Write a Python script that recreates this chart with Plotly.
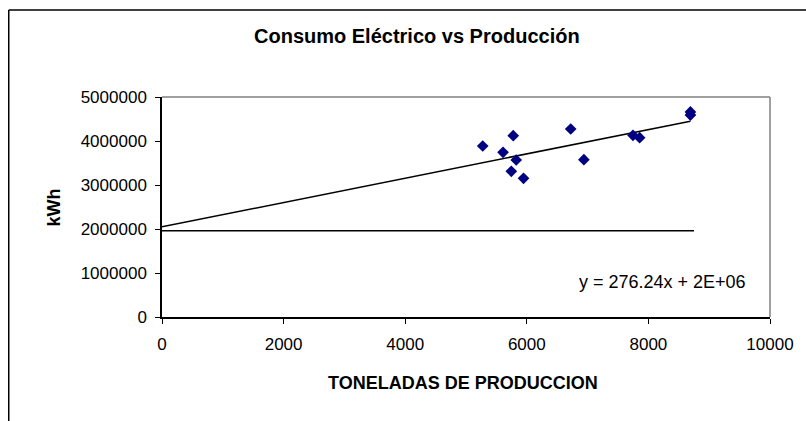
import plotly.graph_objects as go

# Data
produccion = [5275, 5777, 5609, 5826, 5745, 5946, 6722, 6939, 7746, 7856, 8691, 8691]
consumo_kwh = [3886000, 4120000, 3743000, 3568000, 3311000, 3152000, 4273000, 3575000, 4130000, 4075000, 4660000, 4590000]

trend_slope = 276.24
trend_intercept = 2050000
trend_x = [0, 8691]

base_x = [0, 8750]
base_y = [1960000, 1960000]

x_ticks = [0, 2000, 4000, 6000, 8000, 10000]
y_ticks = [0, 1000000, 2000000, 3000000, 4000000, 5000000]

FONT = "Liberation Sans, Arial, sans-serif"

W, H = 806, 421
L, R, T, B = 162, 773, 97, 317

def px(x):
    return (x - L) / (R - L)

def py(y):
    return (B - y) / (B - T)

fig = go.Figure()

fig.add_trace(go.Scatter(
    x=base_x, y=base_y, mode="lines",
    line=dict(color="black", width=1.5), showlegend=False, hoverinfo="skip"))

fig.add_trace(go.Scatter(
    x=trend_x, y=[trend_slope * v + trend_intercept for v in trend_x], mode="lines",
    line=dict(color="black", width=1.5), showlegend=False, hoverinfo="skip"))

fig.add_trace(go.Scatter(
    x=produccion, y=consumo_kwh, mode="markers",
    marker=dict(symbol="diamond", size=9, color="#000080"),
    showlegend=False))

shapes = [
    # plot area top & right gray border
    dict(type="line", xref="paper", yref="paper", x0=0, x1=1, y0=1, y1=1,
         line=dict(color="#808080", width=1.5)),
    dict(type="line", xref="paper", yref="paper", x0=1, x1=1, y0=0, y1=1,
         line=dict(color="#808080", width=1.5)),
    # outer chart frame
    dict(type="line", xref="paper", yref="paper", x0=px(8), x1=px(812), y0=py(10), y1=py(10),
         line=dict(color="black", width=1.5)),
    dict(type="line", xref="paper", yref="paper", x0=px(8), x1=px(8), y0=py(10), y1=py(430),
         line=dict(color="black", width=1.5)),
]

annotations = [
    dict(text="<b>Consumo Eléctrico vs Producción</b>", xref="paper", yref="paper",
         x=px(418), y=py(36), xanchor="center", yanchor="middle", showarrow=False,
         font=dict(family=FONT, size=20, color="black")),
    dict(text="<b>TONELADAS DE PRODUCCION</b>", xref="paper", yref="paper",
         x=px(464), y=py(383), xanchor="center", yanchor="middle", showarrow=False,
         font=dict(family=FONT, size=18, color="black")),
    dict(text="<b>kWh</b>", xref="paper", yref="paper", textangle=-90,
         x=px(53), y=py(208), xanchor="center", yanchor="middle", showarrow=False,
         font=dict(family=FONT, size=18, color="black")),
    dict(text="y = 276.24x + 2E+06", xref="paper", yref="paper",
         x=px(665), y=py(282), xanchor="center", yanchor="middle", showarrow=False,
         font=dict(family=FONT, size=18, color="black")),
]

fig.update_layout(
    width=W, height=H,
    margin=dict(l=L, r=W - R, t=T, b=H - B),
    paper_bgcolor="white", plot_bgcolor="white",
    font=dict(family=FONT, size=17, color="black"),
    shapes=shapes, annotations=annotations,
    xaxis=dict(range=[0, 10000], tickvals=x_ticks, ticktext=[str(v) for v in x_ticks],
               showgrid=False, zeroline=False, showline=True, linecolor="black", linewidth=1.5,
               ticks="outside", ticklen=5, tickcolor="black", tickwidth=1,
               ticklabelstandoff=6),
    yaxis=dict(range=[0, 5000000], tickvals=y_ticks, ticktext=[str(v) for v in y_ticks],
               showgrid=False, zeroline=False, showline=True, linecolor="black", linewidth=1.5,
               ticks="outside", ticklen=5, tickcolor="black", tickwidth=1,
               ticklabelstandoff=5),
)

fig.write_html("out.html", config={"displayModeBar": False},
               post_script="document.body.style.margin='0';document.body.style.overflow='hidden';")
